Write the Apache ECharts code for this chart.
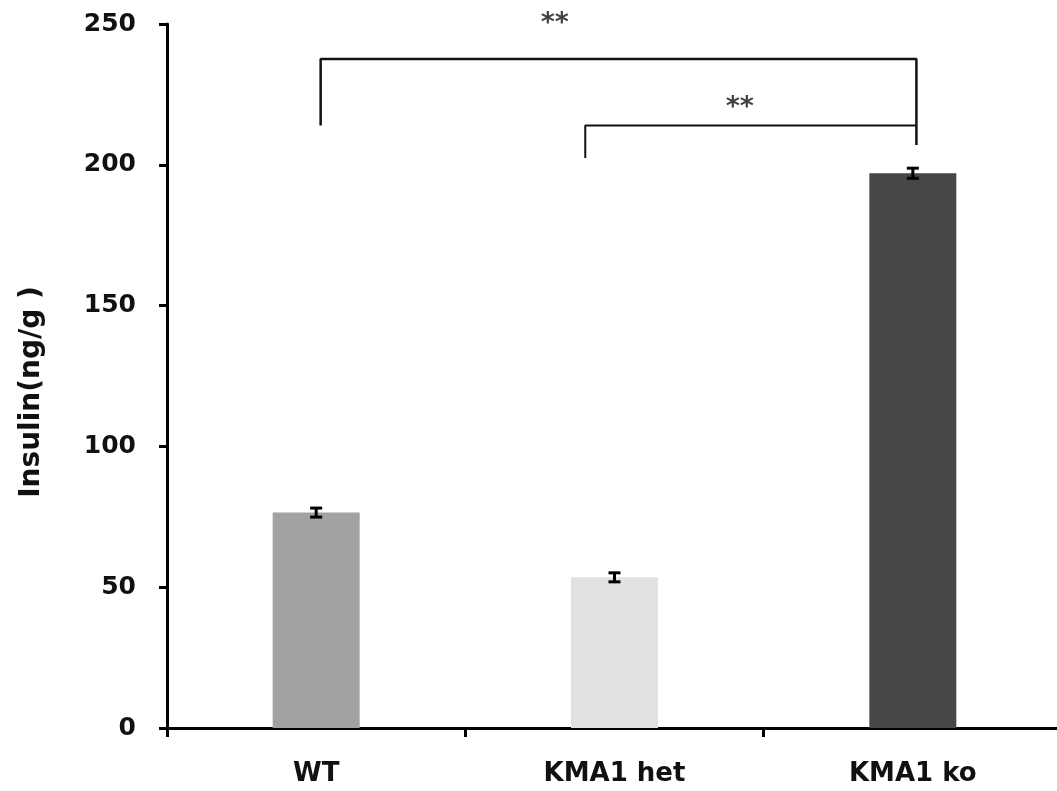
<!DOCTYPE html>
<html>
<head>
<meta charset="utf-8">
<script src="https://cdn.jsdelivr.net/npm/echarts@6/dist/echarts.min.js"></script>
<style>
html,body{margin:0;padding:0;background:#fff;}
#chart{width:1057px;height:791px;}
</style>
</head>
<body>
<div id="chart"></div>
<script>
// ---- data ----
const categories = ['WT', 'KMA1 het', 'KMA1 ko'];
const insulin = [76.5, 53.5, 197];
const insulinErr = [1.6, 1.6, 1.8];
const yTickValues = [0, 50, 100, 150, 200, 250];
// significance brackets, in [category position, value] units
const bracketWTvsKO = [[0.015, 214], [0.015, 237.6], [2.012, 237.6], [2.012, 207]];
const bracketHetvsKO = [[0.902, 202.4], [0.902, 214], [2.012, 214]];
const sigLabels = [
  { pos: [0.80, 250], text: '**' },
  { pos: [1.42, 220], text: '**' }
];

// ---- styles ----
const barColors = ['#a2a2a2', '#e1e1e1', '#474747'];
const FONT = 'DejaVu Sans';

const chart = echarts.init(document.getElementById('chart'), null, { renderer: 'canvas' });

const option = {
  animation: false,
  backgroundColor: '#ffffff',
  grid: { left: 167, top: 24, bottom: 63, width: 895, containLabel: false, outerBoundsMode: 'none' },
  xAxis: [
    {
      type: 'category',
      data: categories,
      boundaryGap: true,
      axisLine: { lineStyle: { color: '#000', width: 3 } },
      axisTick: { show: true, length: 9, lineStyle: { color: '#000', width: 3 }, alignWithLabel: false },
      axisLabel: { color: '#111', fontFamily: FONT, fontWeight: 'bold', fontSize: 26, margin: 33 },
      splitLine: { show: false }
    },
    {
      type: 'value',
      min: -0.5, max: 2.5,
      show: false
    }
  ],
  yAxis: {
    type: 'value',
    min: 0, max: 250, interval: 50,
    name: 'Insulin(ng/g )',
    nameLocation: 'middle',
    nameRotate: 90,
    nameGap: 121,
    nameTextStyle: { color: '#111', fontFamily: FONT, fontWeight: 'bold', fontSize: 28, padding: [0, 32, 0, 0] },
    axisLine: { show: true, onZero: false, lineStyle: { color: '#000', width: 3 } },
    axisTick: { show: true, inside: false, length: 8, lineStyle: { color: '#000', width: 3 } },
    axisLabel: {
      color: '#111', fontFamily: FONT, fontWeight: 'bold', fontSize: 25, margin: 31,
      formatter: v => (yTickValues.indexOf(v) >= 0 ? String(v) : '')
    },
    splitLine: { show: false }
  },
  series: [
    {
      type: 'bar',
      data: insulin.map((v, i) => ({ value: v, itemStyle: { color: barColors[i] } })),
      barWidth: 87,
      z: 2
    },
    {
      type: 'custom',
      data: insulin.map((v, i) => [i, v - insulinErr[i], v + insulinErr[i]]),
      renderItem: function (params, api) {
        const lo = api.coord([api.value(0), api.value(1)]);
        const hi = api.coord([api.value(0), api.value(2)]);
        const hw = 6;
        const st = { stroke: '#000', lineWidth: 3 };
        return {
          type: 'group',
          children: [
            { type: 'line', shape: { x1: hi[0], y1: hi[1], x2: lo[0], y2: lo[1] }, style: st },
            { type: 'line', shape: { x1: hi[0] - hw, y1: hi[1], x2: hi[0] + hw, y2: hi[1] }, style: st },
            { type: 'line', shape: { x1: lo[0] - hw, y1: lo[1], x2: lo[0] + hw, y2: lo[1] }, style: st }
          ]
        };
      },
      z: 5
    },
    {
      type: 'line',
      xAxisIndex: 1,
      data: bracketWTvsKO,
      symbol: 'none',
      lineStyle: { color: '#111', width: 2.5 },
      clip: false,
      z: 6
    },
    {
      type: 'line',
      xAxisIndex: 1,
      data: bracketHetvsKO,
      symbol: 'none',
      lineStyle: { color: '#111', width: 2 },
      clip: false,
      z: 6
    },
    {
      type: 'scatter',
      xAxisIndex: 1,
      symbolSize: 0,
      clip: false,
      data: sigLabels.map(s => ({ value: s.pos, name: s.text })),
      label: {
        show: true,
        position: 'inside',
        formatter: p => p.name,
        color: '#111', fontFamily: FONT, fontWeight: 'bold', fontSize: 27
      },
      z: 7
    }
  ]
};

chart.setOption(option);
</script>
</body>
</html>
